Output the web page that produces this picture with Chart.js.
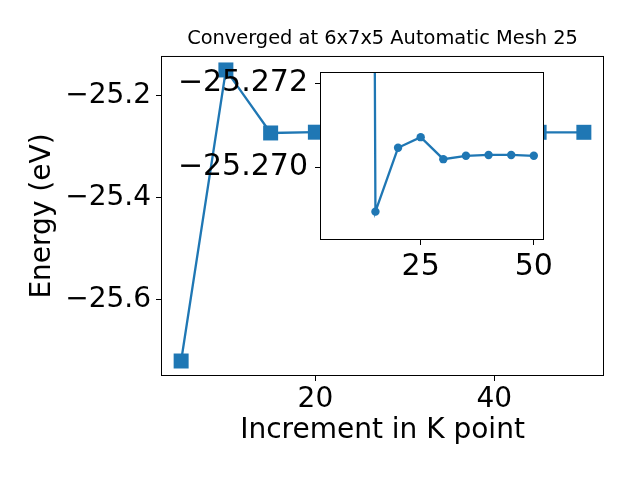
<!DOCTYPE html>
<html>
<head>
<meta charset="utf-8">
<script src="https://cdn.jsdelivr.net/npm/chart.js@4/dist/chart.umd.min.js"></script>
<style>
  html, body { margin: 0; padding: 0; background: #fff; }
  #wrap { position: relative; width: 640px; height: 480px; }
  #inset { position: absolute; left: 170px; top: 40px; }
</style>
</head>
<body>
<div id="wrap">
  <canvas id="main" width="640" height="480"></canvas>
  <canvas id="inset" width="400" height="240"></canvas>
</div>
<script>
// k-point increments and total energy (eV)
const kPoints = [5, 10, 15, 20, 25, 30, 35, 40, 45, 50];
const energy = [-25.7196, -25.149, -25.27254, -25.27103, -25.27078, -25.27130, -25.27122, -25.27120, -25.27120, -25.27122];

const mainXTicks = [20, 40];
const mainYTicks = [-25.6, -25.4, -25.2];
const insetXTicks = [25, 50];
const insetYTicks = [-25.2715, -25.2695];
const insetYLabels = ['\u221225.270', '\u221225.272'];

const titleText = 'Converged at 6x7x5 Automatic Mesh 25';
const xTitle = 'Increment in K point';
const yTitle = 'Energy (eV)';

document.addEventListener('DOMContentLoaded', () => {
  const blue = '#1f77b4';
  const family = '"DejaVu Sans", sans-serif';
  const points = kPoints.map((x, i) => ({ x: x, y: energy[i] }));
  // the inset starts from the second increment
  const insetPoints = points.slice(1);
  const minus = (v, d) => v.toFixed(d).replace('-', '\u2212');

  // black box round the plot area, white fill for the inset
  const frame = {
    id: 'frame',
    beforeDraw(chart, args, opts) {
      if (!opts.fill) return;
      const a = chart.chartArea;
      chart.ctx.save();
      chart.ctx.fillStyle = '#fff';
      chart.ctx.fillRect(a.left, a.top, a.right - a.left, a.bottom - a.top);
      chart.ctx.restore();
    },
    afterDraw(chart) {
      const a = chart.chartArea;
      const ctx = chart.ctx;
      ctx.save();
      ctx.strokeStyle = '#000';
      ctx.lineWidth = 1;
      ctx.strokeRect(a.left + 0.5, a.top + 0.5, a.right - a.left - 1, a.bottom - a.top - 1);
      ctx.restore();
    }
  };

  const tickGrid = { display: true, drawOnChartArea: false, drawTicks: true, tickLength: 5, tickColor: '#000', lineWidth: 1 };

  new Chart(document.getElementById('main').getContext('2d'), {
    type: 'line',
    data: {
      datasets: [{
        data: points,
        borderColor: blue,
        borderWidth: 2.3,
        tension: 0,
        pointStyle: 'rect',
        pointRadius: 10.6,
        pointBorderWidth: 0,
        pointBackgroundColor: blue,
        clip: 0
      }]
    },
    options: {
      responsive: false,
      animation: false,
      devicePixelRatio: 1,
      layout: { padding: { top: 0, right: 36, bottom: 0, left: 0 } },
      scales: {
        x: {
          type: 'linear',
          min: 2.75,
          max: 52.25,
          afterBuildTicks: s => { s.ticks = mainXTicks.map(v => ({ value: v })); },
          afterFit: s => { s.height = 104; },
          grid: tickGrid,
          border: { display: false },
          ticks: { color: '#000', padding: 2, autoSkip: false, maxRotation: 0, font: { family: family, size: 28 } },
          title: { display: true, text: xTitle, color: '#000', padding: { top: 0, bottom: 32 }, font: { family: family, size: 28 } }
        },
        y: {
          min: -25.749,
          max: -25.1216,
          afterBuildTicks: s => { s.ticks = mainYTicks.map(v => ({ value: v })); },
          afterFit: s => { s.width = 161; },
          grid: tickGrid,
          border: { display: false },
          ticks: { color: '#000', padding: 5, autoSkip: false, callback: v => minus(v, 1), font: { family: family, size: 28 } },
          title: { display: true, text: yTitle, color: '#000', padding: { top: 26, bottom: 0 }, font: { family: family, size: 28 } }
        }
      },
      plugins: {
        legend: { display: false },
        tooltip: { enabled: false },
        title: {
          display: true,
          text: titleText,
          fullSize: false,
          color: '#000',
          padding: { top: 27.7, bottom: 5 },
          font: { family: family, size: 19.4, weight: 'normal' }
        },
        frame: { fill: false }
      }
    },
    plugins: [frame]
  });

  new Chart(document.getElementById('inset').getContext('2d'), {
    type: 'line',
    data: {
      datasets: [{
        data: insetPoints,
        borderColor: blue,
        borderWidth: 2.3,
        tension: 0,
        pointStyle: 'circle',
        pointRadius: 4.2,
        pointBorderWidth: 0,
        pointBackgroundColor: blue,
        clip: 0
      }]
    },
    options: {
      responsive: false,
      animation: false,
      devicePixelRatio: 1,
      layout: { padding: { top: 32, right: 26, bottom: 0, left: 0 } },
      scales: {
        x: {
          type: 'linear',
          min: 2.75,
          max: 52.25,
          afterBuildTicks: s => { s.ticks = insetXTicks.map(v => ({ value: v })); },
          afterFit: s => { s.height = 40; },
          grid: tickGrid,
          border: { display: false },
          ticks: { color: '#000', padding: 4, autoSkip: false, maxRotation: 0, font: { family: family, size: 30 } },
        },
        y: {
          min: -25.27321,
          max: -25.26924,
          afterBuildTicks: s => { s.ticks = insetYTicks.map(v => ({ value: v })); },
          afterFit: s => { s.width = 150; },
          grid: tickGrid,
          border: { display: false },
          ticks: { color: '#000', padding: 7, autoSkip: false, callback: (v, i) => insetYLabels[i], font: { family: family, size: 30 } }
        }
      },
      plugins: {
        legend: { display: false },
        tooltip: { enabled: false },
        frame: { fill: true }
      }
    },
    plugins: [frame]
  });
});
</script>
</body>
</html>
